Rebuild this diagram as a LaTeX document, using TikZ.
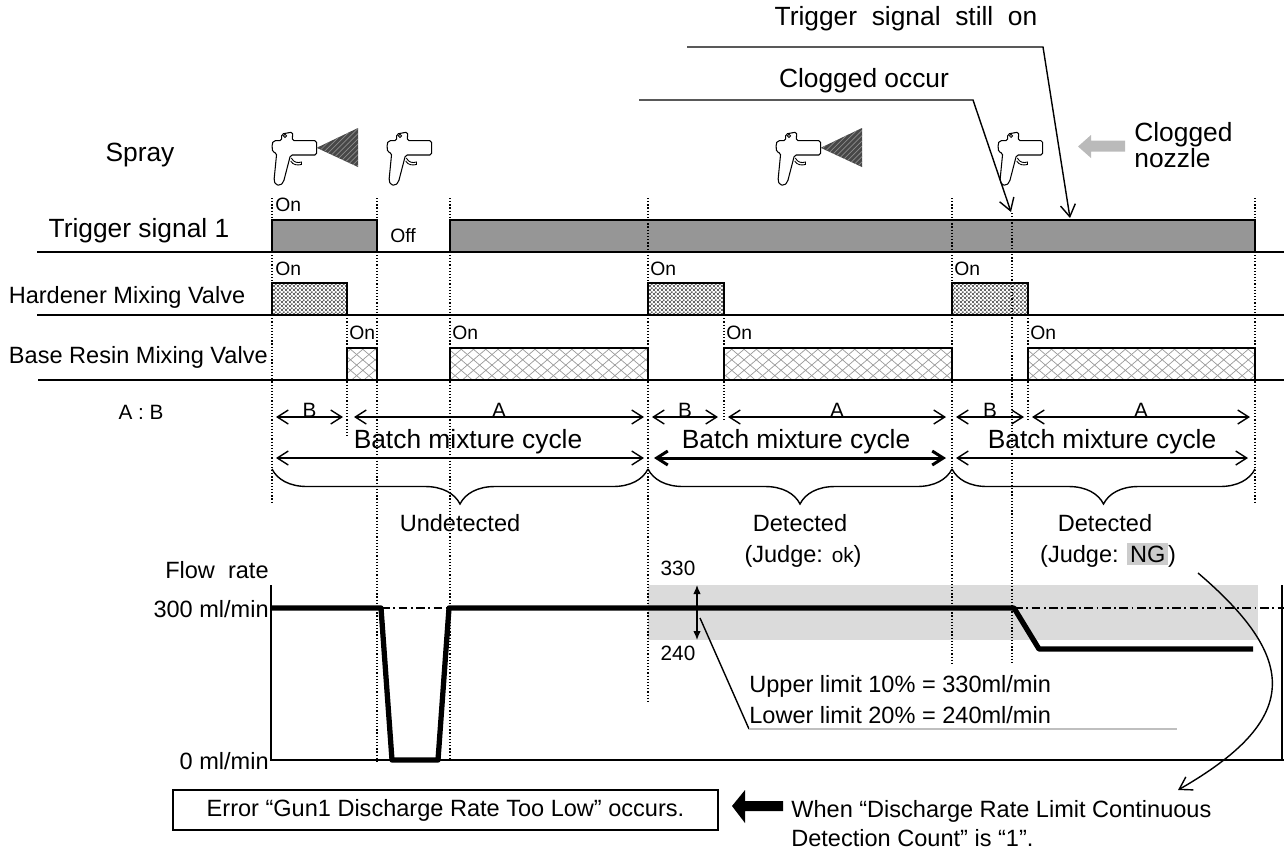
\documentclass[tikz,border=0pt]{standalone}
\usepackage{fontspec}
\setmainfont{Liberation Sans}
\usetikzlibrary{arrows.meta, patterns, decorations.pathreplacing}
\newcommand{\grande}{\fontsize{15}{18}\selectfont}
\newcommand{\medio}{\fontsize{13.4}{16}\selectfont}
\newcommand{\chico}{\fontsize{11}{13}\selectfont}
\newcommand{\numero}{\fontsize{11.8}{14}\selectfont}
\pgfdeclarepatternformonly{ajedrez}{\pgfpointorigin}{\pgfpoint{2.4pt}{2.4pt}}{\pgfpoint{2.4pt}{2.4pt}}{%
    \pgfpathrectangle{\pgfpointorigin}{\pgfpoint{1.2pt}{1.2pt}}%
    \pgfpathrectangle{\pgfpoint{1.2pt}{1.2pt}}{\pgfpoint{1.2pt}{1.2pt}}%
    \pgfusepath{fill}}
\pgfdeclarepatternformonly{rombos}{\pgfpoint{-0.5pt}{-0.5pt}}{\pgfpoint{7.5pt}{6.5pt}}{\pgfpoint{7pt}{6pt}}{%
    \pgfsetlinewidth{0.4pt}%
    \pgfpathmoveto{\pgfpointorigin}\pgfpathlineto{\pgfpoint{7pt}{6pt}}%
    \pgfpathmoveto{\pgfpoint{0pt}{6pt}}\pgfpathlineto{\pgfpoint{7pt}{0pt}}%
    \pgfusepath{stroke}}
\tikzset{
    texto/.style={inner sep=0pt, anchor=base},
    linea/.style={line width=1.1pt},
    barra/.style={draw=black, line width=0.9pt, fill=black!41},
    endur/.style={draw=black, line width=0.9pt, pattern=ajedrez, pattern color=black!60},
    resina/.style={draw=black, line width=0.9pt, pattern=rombos, pattern color=black!40},
    punteada/.style={line width=0.7pt, dash pattern=on 0.7pt off 1.1pt},
    nota/.style={line width=0.8pt, -{Straight Barb[length=2.4mm, width=3mm]}},
    cota/.style={line width=0.8pt, {Straight Barb[length=2.2mm, width=2.8mm]}-{Straight Barb[length=2.2mm, width=2.8mm]}},
    limite/.style={line width=0.7pt, {Latex[length=1.8mm, width=1.5mm]}-{Latex[length=1.8mm, width=1.5mm]}},
    llave/.style={decorate, decoration={brace, amplitude=0.7cm}, line width=0.8pt},
    flujo/.style={line width=3pt, line join=round},
    refe/.style={line width=0.6pt, dash pattern=on 5pt off 2pt on 1pt off 2pt},
    caja/.style={draw, line width=1pt, minimum width=10.9cm, minimum height=0.8cm, inner sep=0pt},
    pics/pistola/.style={code={
        \draw[line width=0.6pt, rounded corners=1pt] (0,12) -- (1.5,8.7) -- (9.7,8.7) -- (9.7,2) -- (20.7,0)
            -- (20.3,8.7) -- (44.7,8.7) -- (44.7,23) -- (18.5,23) -- (11.5,50) -- (8,53.5) -- (3.5,52.5)
            -- (2,48.5) -- (4.7,21) -- (0.5,20) -- cycle;
        \draw[line width=0.5pt] (13,3.8) circle[radius=0.9pt];
        \draw[line width=0.5pt] (19.3,26) .. controls (22,31) and (26,31) .. (29.5,30) -- (29.5,32.5)
            .. controls (25,33.5) and (21,33) .. (18.7,29);
    }},
    pics/chorro/.style={code={
        \fill[black!72] (44.7,15.8) -- (86,-4) -- (86,35) -- cycle;
        \fill[pattern=north east lines, pattern color=black!45] (44.7,15.8) -- (86,-4) -- (86,35) -- cycle;
    }}}

\begin{document}
\begin{tikzpicture}[x=0.02cm, y=-0.02cm]
    \useasboundingbox (0,0) rectangle (1284,850);

    % Banda de limites
    \fill[black!14] (648,585) rectangle (1258,640);

    % Anotaciones
    \node[texto, font=\grande] (sigue) at (906,25) {Trigger\ \ signal\ \ still\ \ on};
    \node[texto, font=\grande] (atasco) at (864,87) {Clogged occur};
    \coordinate (s1) at (687,47);
    \coordinate (s2) at (1043,47);
    \coordinate (s3) at (1070,218);
    \coordinate (a1) at (639,100);
    \coordinate (a2) at (973,100);
    \coordinate (a3) at (1011,212);

    % Pistolas
    \node[texto, font=\grande] (rociado) at (140,161) {Spray};
    \pic (p1) at (272,132) {pistola};
    \pic (c1) at (272,132) {chorro};
    \pic (p2) at (387,132) {pistola};
    \pic (p3) at (776,132) {pistola};
    \pic (c3) at (776,132) {chorro};
    \pic (p4) at (998,132) {pistola};
    \fill[black!27] (1078,146.5) -- (1091,135) -- (1091,140.5) -- (1125,140.5) -- (1125,151.5)
        -- (1091,151.5) -- (1091,158) -- cycle;
    \node[texto, anchor=base west, font=\grande] (boq1) at (1134,141) {Clogged};
    \node[texto, anchor=base west, font=\grande] (boq2) at (1134,167) {nozzle};

    % Primera fila: senal de disparo
    \node[texto, font=\grande] (disparo) at (139,237) {Trigger signal 1};
    \draw[barra] (272,220) rectangle (377,252);
    \draw[barra] (450,220) rectangle (1255,252);
    \draw[linea] (37,252) -- (1284,252);
    \node[texto, anchor=base west, font=\chico] (on1) at (275,211) {On};
    \node[texto, anchor=base west, font=\chico] (off1) at (390,242) {Off};

    % Segunda fila: valvula de endurecedor
    \node[texto, font=\medio] (endur) at (127,303) {Hardener Mixing Valve};
    \draw[endur] (272,283) rectangle (347,315);
    \draw[endur] (648,283) rectangle (724,315);
    \draw[endur] (952,283) rectangle (1028,315);
    \draw[linea] (37,315) -- (1284,315);
    \node[texto, anchor=base west, font=\chico] (on2) at (275,275) {On};
    \node[texto, anchor=base west, font=\chico] (on3) at (650,275) {On};
    \node[texto, anchor=base west, font=\chico] (on4) at (954,275) {On};

    % Tercer fila: valvula de resina base
    \node[texto, anchor=base east, font=\medio] (resina) at (268,363) {Base Resin Mixing Valve};
    \draw[resina] (347,348) rectangle (377,380);
    \draw[resina] (450,348) rectangle (648,380);
    \draw[resina] (724,348) rectangle (952,380);
    \draw[resina] (1028,348) rectangle (1255,380);
    \draw[linea] (38,380) -- (1284,380);
    \node[texto, anchor=base west, font=\chico] (on5) at (349,339) {On};
    \node[texto, anchor=base west, font=\chico] (on6) at (452,339) {On};
    \node[texto, anchor=base west, font=\chico] (on7) at (726,339) {On};
    \node[texto, anchor=base west, font=\chico] (on8) at (1030,339) {On};

    % Lineas punteadas
    \draw[punteada] (272,198) -- (272,503);
    \draw[punteada] (347,315) -- (347,438);
    \draw[punteada] (377,198) -- (377,762);
    \draw[punteada] (450,198) -- (450,760);
    \draw[punteada] (648,198) -- (648,702);
    \draw[punteada] (724,315) -- (724,420);
    \draw[punteada] (952,198) -- (952,665);
    \draw[punteada] (1012,213) -- (1012,665);
    \draw[punteada] (1028,315) -- (1028,420);
    \draw[punteada] (1255,198) -- (1255,503);

    \draw[nota] (s1) -- (s2) -- (s3);
    \draw[nota] (a1) -- (a2) -- (a3);

    % Relacion A:B y ciclos
    \node[texto, font=\numero] (relacion) at (141,419) {A : B};
    \coordinate (b1i) at (276,417); \coordinate (b1f) at (343,417);
    \coordinate (r1i) at (354,417); \coordinate (r1f) at (644,417);
    \coordinate (b2i) at (652,417); \coordinate (b2f) at (718,417);
    \coordinate (r2i) at (728,417); \coordinate (r2f) at (946,417);
    \coordinate (b3i) at (956,417); \coordinate (b3f) at (1024,417);
    \coordinate (r3i) at (1032,417); \coordinate (r3f) at (1250,417);
    \draw[cota] (b1i) -- node[texto, font=\numero] (lb1) {B} (b1f);
    \draw[cota] (r1i) -- node[texto, font=\numero] (la1) {A} (r1f);
    \draw[cota] (b2i) -- node[texto, font=\numero] (lb2) {B} (b2f);
    \draw[cota] (r2i) -- node[texto, font=\numero] (la2) {A} (r2f);
    \draw[cota] (b3i) -- node[texto, font=\numero] (lb3) {B} (b3f);
    \draw[cota] (r3i) -- node[texto, font=\numero] (la3) {A} (r3f);
    \node[texto, font=\grande] (ciclo1) at (468,448) {Batch mixture cycle};
    \node[texto, font=\grande] (ciclo2) at (796,448) {Batch mixture cycle};
    \node[texto, font=\grande] (ciclo3) at (1102,448) {Batch mixture cycle};
    \coordinate (k1i) at (276,458); \coordinate (k1f) at (644,458);
    \coordinate (k2i) at (654,458); \coordinate (k2f) at (946,458);
    \coordinate (k3i) at (956,458); \coordinate (k3f) at (1248,458);
    \draw[cota] (k1i) -- (k1f);
    \draw[cota, line width=1.7pt] (k2i) -- (k2f);
    \draw[cota] (k3i) -- (k3f);

    % Llaves y deteccion
    \draw[llave] (648,469) -- (272,469);
    \draw[llave] (952,469) -- (648,469);
    \draw[llave] (1255,469) -- (952,469);
    \node[texto, font=\medio] (det1) at (460,531) {Undetected};
    \node[texto, font=\medio] (det2) at (800,531) {Detected};
    \node[texto, font=\medio] (det3) at (1105,531) {Detected};
    \node[texto, font=\medio] (juicio2) at (803,562) {(Judge: {\numero ok})};
    \node[texto, font=\medio] (juicio3) at (1108,562) {(Judge: {\setlength{\fboxsep}{1.5pt}\colorbox{black!20}{NG}})};

    % Caudal
    \node[texto, anchor=base east, font=\medio] (caudal) at (269,578) {Flow\ \ rate};
    \node[texto, anchor=base east, font=\medio] (q300) at (269,617) {300 ml/min};
    \node[texto, anchor=base east, font=\medio] (q0) at (269,769) {0 ml/min};
    \draw[linea] (271,585) -- (271,760) -- (1284,760);
    \draw[linea] (1282,585) -- (1282,760);
    \draw[refe] (381,608) -- (449,608);
    \draw[refe] (1014,608) -- (1284,608);
    \draw[flujo] (271,608) -- (381,608) -- (392,760) -- (438,760) -- (449,608) -- (1014,608)
        -- (1039,649) -- (1253,649);
    \node[texto, font=\numero] (n330) at (678,575) {330};
    \node[texto, font=\numero] (n240) at (678,660) {240};
    \coordinate (sup) at (697,585);
    \coordinate (inf) at (697,640);
    \draw[limite] (sup) -- (inf);
    \coordinate (g1) at (700,618);
    \coordinate (g2) at (749,729);
    \coordinate (g3) at (1177,729);
    \draw[line width=0.8pt] (g1) -- (g2);
    \draw[line width=0.8pt, black!25] (g2) -- (g3);
    \node[texto, anchor=base west, font=\medio] (superior) at (749,692) {Upper limit 10\% = 330ml/min};
    \node[texto, anchor=base west, font=\medio] (inferior) at (749,723) {Lower limit 20\% = 240ml/min};

    % Error
    \coordinate (j1) at (1198,573);
    \coordinate (j2) at (1178,790);
    \draw[nota] (j1) .. controls (1300,660) and (1300,720) .. (j2);
    \node[caja, font=\medio] (error) at (445.5,810) {Error “Gun1 Discharge Rate Too Low” occurs.};
    \fill (732,806) -- (745,790) -- (745,801) -- (783,801) -- (783,811) -- (745,811) -- (745,823) -- cycle;
    \node[texto, anchor=base west, font=\medio] (cuando1) at (791,817) {When “Discharge Rate Limit Continuous};
    \node[texto, anchor=base west, font=\medio] (cuando2) at (791,846) {Detection Count” is “1”.};
\end{tikzpicture}
\end{document}
